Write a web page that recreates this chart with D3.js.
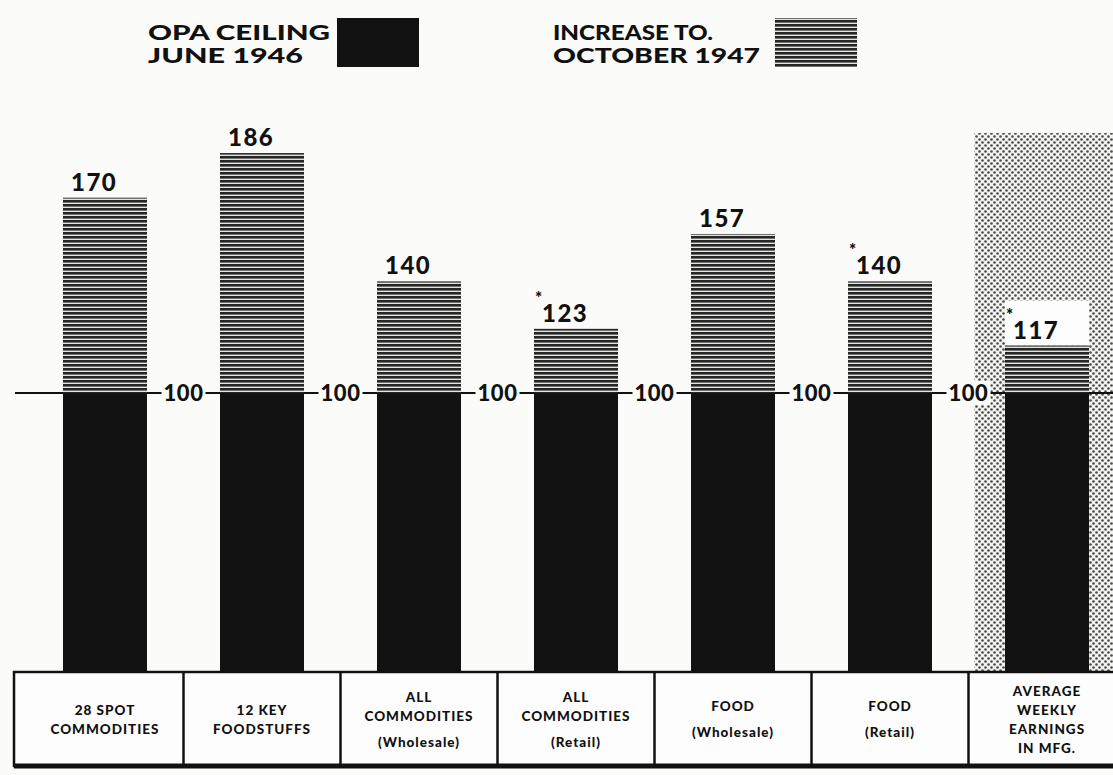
<!DOCTYPE html>
<html>
<head>
<meta charset="utf-8">
<script src="https://cdn.jsdelivr.net/npm/d3@7"></script>
<style>
  html, body { margin: 0; padding: 0; background: #fbfbfa; }
  svg { display: block; }
  text { font-family: "Lato", "DejaVu Sans", sans-serif; font-weight: 900; fill: #111; }
</style>
</head>
<body>
<svg id="chart" width="1113" height="775"></svg>
<script>
// Index numbers, OPA ceiling June 1946 = 100
const categories = ["spot", "foodstuffs", "allWholesale", "allRetail", "foodWholesale", "foodRetail", "earnings"];
const categoryLabels = [
  ["28 SPOT", "COMMODITIES"],
  ["12 KEY", "FOODSTUFFS"],
  ["ALL", "COMMODITIES", "(Wholesale)"],
  ["ALL", "COMMODITIES", "(Retail)"],
  ["FOOD", "(Wholesale)"],
  ["FOOD", "(Retail)"],
  ["AVERAGE", "WEEKLY", "EARNINGS", "IN MFG."]
];
const octoberValues = [170, 186, 140, 123, 157, 140, 117];
const starred = [false, false, false, true, false, true, true];
const baseValue = 100;
const legendLabels = [["OPA CEILING", "JUNE 1946"], ["INCREASE TO.", "OCTOBER 1947"]];
const highlighted = "earnings";

const svg = d3.select("#chart");
const W = 1113, H = 775;

const x = d3.scaleBand().domain(categories).range([-10, 1162]).padding(0.465);
const y = d3.scaleLinear().domain([0, 100]).range([672, 393]);
const step = x.step();
const half = step / 2;
const center = c => x(c) + x.bandwidth() / 2;

// Patterns: horizontal rule screen for the increase, dot screen for the earnings column
const defs = svg.append("defs");
const stripes = defs.append("pattern").attr("id", "stripes")
  .attr("patternUnits", "userSpaceOnUse").attr("width", 8).attr("height", 4);
stripes.append("rect").attr("width", 8).attr("height", 4).attr("fill", "#e2e2e0");
stripes.append("rect").attr("width", 8).attr("height", 2.6).attr("fill", "#262626");

const dots = defs.append("pattern").attr("id", "dots")
  .attr("patternUnits", "userSpaceOnUse").attr("width", 6).attr("height", 6);
dots.append("rect").attr("width", 6).attr("height", 6).attr("fill", "#f2f2f0");
dots.append("circle").attr("cx", 1.5).attr("cy", 1.5).attr("r", 1.3).attr("fill", "#4a4a4a");
dots.append("circle").attr("cx", 4.5).attr("cy", 4.5).attr("r", 1.3).attr("fill", "#4a4a4a");

// Shaded earnings column
const shadeLeft = center(highlighted) - half + 6;
svg.append("rect")
  .attr("x", shadeLeft)
  .attr("y", 133)
  .attr("width", W - shadeLeft)
  .attr("height", y(0) - 133)
  .attr("fill", "url(#dots)");

// Baseline rule at 100
svg.append("line")
  .attr("x1", 15).attr("x2", W)
  .attr("y1", y(baseValue)).attr("y2", y(baseValue))
  .attr("stroke", "#111").attr("stroke-width", 2);

const bars = svg.append("g").selectAll("g")
  .data(categories.map((c, i) => ({ c, v: octoberValues[i], star: starred[i] })))
  .join("g");

// White knock-out behind the label in the shaded column
bars.filter(d => d.c === highlighted).append("rect")
  .attr("x", d => x(d.c)).attr("width", x.bandwidth())
  .attr("y", d => y(d.v) - 45).attr("height", 45)
  .attr("fill", "#fdfdfd");

bars.append("rect")
  .attr("x", d => x(d.c)).attr("width", x.bandwidth())
  .attr("y", d => y(d.v)).attr("height", d => y(baseValue) - y(d.v))
  .attr("fill", "url(#stripes)");

bars.append("rect")
  .attr("x", d => x(d.c)).attr("width", x.bandwidth())
  .attr("y", y(baseValue)).attr("height", y(0) - y(baseValue))
  .attr("fill", "#121212");

bars.append("text")
  .attr("x", d => x(d.c) + 8)
  .attr("y", d => y(d.v) - 7)
  .attr("font-size", 24)
  .attr("letter-spacing", 1.5)
  .text(d => d.v);

bars.filter(d => d.star).append("text")
  .attr("x", d => x(d.c) + 1)
  .attr("y", d => y(d.v) - 25)
  .attr("font-size", 17)
  .text("*");

// "100" markers in the gaps between bars
const gaps = categories.slice(0, -1).map(c => center(c) + half);
const gapLabels = svg.append("g").selectAll("g").data(gaps).join("g");
gapLabels.append("rect")
  .attr("x", g => g - 22).attr("width", 44)
  .attr("y", y(baseValue) - 12).attr("height", 24)
  .attr("fill", "#fbfbfa");
gapLabels.append("text")
  .attr("x", g => g).attr("y", y(baseValue) + 8)
  .attr("text-anchor", "middle")
  .attr("font-size", 22)
  .attr("letter-spacing", 0.5)
  .text(baseValue);

// Category label box
const boxTop = y(0), boxBottom = 766, boxLeft = 14;
const box = svg.append("g");
box.append("rect")
  .attr("x", boxLeft).attr("y", boxTop)
  .attr("width", W - boxLeft + 5).attr("height", boxBottom - boxTop)
  .attr("fill", "#fdfdfd").attr("stroke", "#111").attr("stroke-width", 2.5);
box.append("line")
  .attr("x1", boxLeft).attr("x2", W)
  .attr("y1", boxBottom).attr("y2", boxBottom)
  .attr("stroke", "#111").attr("stroke-width", 5);
box.selectAll("line.div").data(gaps).join("line")
  .attr("class", "div")
  .attr("x1", g => g).attr("x2", g => g)
  .attr("y1", boxTop).attr("y2", boxBottom)
  .attr("stroke", "#111").attr("stroke-width", 2.5);

const labelCenter = (boxTop + boxBottom) / 2;
categories.forEach((c, i) => {
  const lines = categoryLabels[i];
  const offsets = [];
  let acc = 0;
  lines.forEach((l, j) => {
    if (j > 0) acc += 19 + (l.startsWith("(") ? 7 : 0);
    offsets.push(acc);
  });
  const t = box.append("text")
    .attr("text-anchor", "middle")
    .attr("font-size", 13.5)
    .attr("letter-spacing", 1);
  lines.forEach((l, j) => {
    t.append("tspan")
      .attr("x", center(c))
      .attr("y", labelCenter - acc / 2 + offsets[j] + 5)
      .text(l);
  });
});

// Legend
const legend = svg.append("g");
const legendItems = [
  { x: 148, swatchX: 337, fill: "#121212", lines: legendLabels[0], widths: [182, 155] },
  { x: 553, swatchX: 775, fill: "url(#stripes)", lines: legendLabels[1], widths: [160, 207] }
];
legendItems.forEach(item => {
  item.lines.forEach((l, j) => {
    legend.append("text")
      .attr("x", item.x).attr("y", 40 + j * 23)
      .attr("font-size", 20)
      .attr("textLength", item.widths[j])
      .attr("lengthAdjust", "spacingAndGlyphs")
      .text(l);
  });
  legend.append("rect")
    .attr("x", item.swatchX).attr("y", 18)
    .attr("width", 82).attr("height", 49)
    .attr("fill", item.fill);
});
</script>
</body>
</html>
